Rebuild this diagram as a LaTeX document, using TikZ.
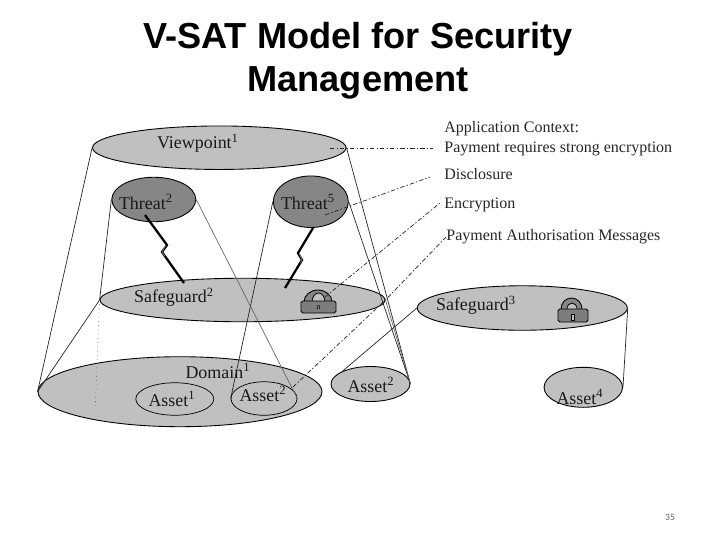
\documentclass[tikz,border=0pt]{standalone}
\usepackage{fontspec}
\usepackage{tikz}
\usetikzlibrary{shapes.geometric}
\setmainfont{Liberation Serif}
\newfontfamily\titlefont{Liberation Sans}
\newfontfamily\pagefont{Carlito}
\definecolor{lightdisc}{RGB}{192,192,192}
\definecolor{darkdisc}{RGB}{134,134,134}
\definecolor{lockgrey}{RGB}{125,125,125}
\tikzset{
	disc/.style={ellipse,draw=black,fill=lightdisc,line width=0.5pt},
	threatdisc/.style={disc,fill=darkdisc},
	assetring/.style={ellipse,draw=black,line width=0.4pt},
	word/.style={font=\fontsize{10.2}{12}\selectfont,text=black!90},
	note/.style={font=\fontsize{9.1}{11}\selectfont,anchor=west,text=black!85},
	thin line/.style={draw=black!85,line width=0.4pt},
	grey line/.style={draw=black!60,line width=0.4pt},
	dashdot line/.style={draw=black!85,line width=0.4pt,dash pattern=on 2.5pt off 1.2pt on 0.8pt off 1.2pt},
	dot line/.style={draw=black!60,line width=0.4pt,dotted},
	bolt/.style={draw=black,line width=1.3pt,line join=miter},
	boltcore/.style={draw=black!40,line width=0.3pt}
}

\begin{document}
\begin{tikzpicture}[scale=0.2]
		\tikzstyle{every node}+=[inner sep=0pt]
		\useasboundingbox (0,0) rectangle (72,-54);
		% title
		\node [font=\titlefont\bfseries\fontsize{20.6}{24.5}\selectfont,align=center] (title) at (35.8,-6.1) {V-SAT Model for Security\\Management};
		\node [font=\pagefont\fontsize{5.5}{6}\selectfont,text=black!60] (pagenum) at (67,-51.7) {35};
		% discs
		\node [disc,minimum width=5.07cm,minimum height=0.87cm] (viewpoint) at (21.93,-14.77) {};
		\node [threatdisc,minimum width=1.68cm,minimum height=0.89cm] (threat2) at (15.38,-19.95) {};
		\node [threatdisc,minimum width=1.5cm,minimum height=1.03cm] (threat5) at (31.08,-20.17) {};
		\node [disc,minimum width=5.7cm,minimum height=0.87cm] (safeguard2) at (24.25,-30) {};
		\node [disc,minimum width=5.68cm,minimum height=1.4cm] (domain) at (18,-39.17) {};
		\node [assetring,minimum width=1.56cm,minimum height=0.65cm] (asset1) at (17.48,-39.9) {};
		\node [assetring,minimum width=1.32cm,minimum height=0.67cm] (asset2) at (26.4,-39.85) {};
		\node [disc,minimum width=1.58cm,minimum height=0.7cm] (asset3) at (37.05,-38.4) {};
		\node [disc,minimum width=4.2cm,minimum height=0.89cm] (safeguard3) at (52.23,-30.8) {};
		\node [disc,minimum width=1.57cm,minimum height=0.8cm] (asset4) at (58.33,-38.73) {};
		% disc labels
		\node [word] (viewpointtext) at (19.8,-14.3) {Viewpoint\textsuperscript{1}};
		\node [word] (threat2text) at (14.6,-20.2) {Threat\textsuperscript{2}};
		\node [word] (threat5text) at (30.8,-20.2) {Threat\textsuperscript{5}};
		\node [word] (safeguard2text) at (17.4,-29.7) {Safeguard\textsuperscript{2}};
		\node [word] (domaintext) at (21.8,-37.1) {Domain\textsuperscript{1}};
		\node [word] (asset1text) at (17.2,-39.9) {Asset\textsuperscript{1}};
		\node [word] (asset2text) at (26.3,-39.4) {Asset\textsuperscript{2}};
		\node [word] (asset3text) at (37.1,-38.5) {Asset\textsuperscript{2}};
		\node [word] (safeguard3text) at (47.6,-30.5) {Safeguard\textsuperscript{3}};
		\node [word] (asset4text) at (58,-39.7) {Asset\textsuperscript{4}};
		% notes on the right
		\node [note] (context) at (44.4,-12.9) {Application Context:};
		\node [note] (payment) at (44.4,-14.9) {Payment requires strong encryption};
		\node [note] (disclosure) at (44.4,-17.4) {Disclosure};
		\node [note] (encryption) at (44.4,-20.5) {Encryption};
		\node [note] (messages) at (44.6,-23.7) {Payment Authorisation Messages};
		% lock on safeguard2
		\draw [fill=darkdisc,line width=0.5pt] (30.4,-30.2) arc (180:0:1.4 and 1.2);
		\draw [fill=lightdisc,line width=0.4pt] (31.2,-30.2) arc (180:0:0.65 and 0.9);
		\draw [fill=lockgrey,line width=0.5pt,rounded corners=1pt] (30.1,-30.1) -- (33.6,-30.1) -- (33.6,-31.3) -- (30.1,-31.3) -- cycle;
		\node [font=\fontsize{4.5}{5}\selectfont] (lock2key) at (31.85,-30.8) {n};
		% lock on safeguard3
		\draw [fill=darkdisc,line width=0.5pt] (56.1,-30.9) arc (180:0:1.05 and 1.1);
		\draw [fill=lightdisc,line width=0.4pt] (56.7,-30.9) arc (180:0:0.5 and 0.6);
		\draw [fill=lockgrey,line width=0.5pt,rounded corners=1pt] (55.8,-30.9) -- (58.8,-30.9) -- (58.8,-32.2) -- (55.8,-32.2) -- cycle;
		\draw [fill=lightdisc,line width=0.3pt] (57.15,-31.45) rectangle (57.45,-32);
		% free ends
		\coordinate (domainfoot) at (9.5,-41.3);
		\coordinate (threatmark) at (32.5,-21.5);
		\coordinate (lockmark) at (32.5,-29.7);
		\coordinate (assetmark) at (29.3,-38.7);
		\coordinate (viewmark) at (33,-14.8);
		\coordinate (viewnote) at (43.3,-14.8);
		\coordinate (threatnote) at (43,-17.7);
		\coordinate (locknote) at (44,-20.3);
		% cone lines
		\draw [thin line] (viewpoint.west) -- (domain.west);
		\draw [thin line] (viewpoint.east) -- (asset3.east);
		\draw [thin line] (threat2.west) -- (safeguard2.west);
		\draw [thin line] (safeguard2.west) -- (domain.west);
		\draw [dot line] (safeguard2.west) -- (domainfoot);
		\draw [thin line] (threat5.west) -- (asset2.west);
		\draw [grey line] (threat2.east) -- (asset2.east);
		\draw [thin line] (threat5.east) -- (asset3.east);
		\draw [grey line] (safeguard2.east) -- (asset3.east);
		\draw [thin line] (safeguard3.west) -- (asset3.north west);
		\draw [thin line] (safeguard3.east) -- (asset4.east);
		% note lines
		\draw [dashdot line] (viewmark) -- (viewnote);
		\draw [dashdot line] (threatmark) -- (threatnote);
		\draw [dashdot line] (lockmark) -- (locknote);
		\draw [dashdot line] (assetmark) -- (safeguard2.east) -- (messages.west);
		% bolts
		\draw [bolt] (14.5,-21.5) -- (16.7,-24.5) -- (16.2,-25.2) -- (18.4,-28.3);
		\draw [boltcore] (16.6,-24.5) -- (16.2,-25.2) -- (16.5,-25.6);
		\draw [bolt] (31.3,-22.8) -- (29.8,-25.3) -- (30.2,-26) -- (28.5,-28.8);
		\draw [boltcore] (29.9,-25.3) -- (30.2,-26) -- (30.05,-26.3);
	\end{tikzpicture}
\end{document}
